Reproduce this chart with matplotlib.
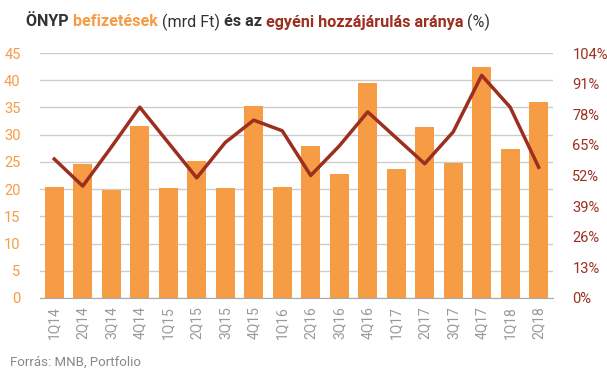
import matplotlib.pyplot as plt

quarters = ['1Q14', '2Q14', '3Q14', '4Q14', '1Q15', '2Q15', '3Q15', '4Q15', '1Q16',
            '2Q16', '3Q16', '4Q16', '1Q17', '2Q17', '3Q17', '4Q17', '1Q18', '2Q18']
payments = [20.4, 24.6, 19.9, 31.6, 20.2, 25.2, 20.2, 35.3, 20.4,
            27.9, 22.8, 39.5, 23.7, 31.4, 24.8, 42.5, 27.4, 36.0]
ratio = [59.0, 47.5, 64.0, 81.0, 66.0, 51.0, 66.0, 75.5, 71.0,
         52.0, 64.5, 79.0, 68.0, 57.0, 70.5, 94.5, 81.0, 55.5]
left_ticks = [0, 5, 10, 15, 20, 25, 30, 35, 40, 45]
right_ticks = [0, 13, 26, 39, 52, 65, 78, 91, 104]

orange = '#f59c45'
red = '#9c2f1f'
dark = '#333333'

plt.rcParams['font.family'] = ['Roboto', 'DejaVu Sans']

fig = plt.figure(figsize=(6.07, 3.8), dpi=100)
ax = fig.add_axes([0.0659, 0.2158, 0.845, 0.6447])
ax2 = ax.twinx()

x = list(range(len(quarters)))
ax.bar(x, payments, width=0.67, color=orange, zorder=2)
ax.set_xlim(-0.5, len(quarters) - 0.5)
ax.set_ylim(0, 45)
ax.set_yticks(left_ticks)
ax.grid(axis='y', color='#cccccc', linewidth=1, zorder=0)
ax.set_axisbelow(True)
ax.set_xticks(x)
ax.set_xticklabels(quarters, rotation=90, color='#999999', fontsize=10)
ax.tick_params(axis='y', colors=orange, labelsize=10.5, length=0, pad=14)
ax.tick_params(axis='x', length=0, pad=6)
for s in ['top', 'left', 'right']:
    ax.spines[s].set_visible(False)
ax.spines['bottom'].set_color('#aaaaaa')

ax2.plot(x, ratio, color=red, linewidth=2.5, zorder=3)
ax2.set_ylim(0, 104)
ax2.set_yticks(right_ticks)
ax2.set_yticklabels([f'{t}%' for t in right_ticks])
ax2.tick_params(axis='y', colors=red, labelsize=10.5, length=0, pad=14)
for s in ['top', 'left', 'right', 'bottom']:
    ax2.spines[s].set_visible(False)

# multi-coloured title
parts = [('ÖNYP ', dark, 'bold'), ('befizetések ', orange, 'bold'), ('(mrd Ft) ', dark, 'normal'),
         ('és az ', dark, 'bold'), ('egyéni hozzájárulás aránya ', red, 'bold'), ('(%)', dark, 'normal')]
renderer = fig.canvas.get_renderer()
xpos = 26
for txt, col, wt in parts:
    t = fig.text(xpos / 607, 1 - 22 / 380, txt, color=col, fontweight=wt, fontsize=11.6,
                 va='center', ha='left')
    bb = t.get_window_extent(renderer=renderer)
    xpos += bb.width

fig.text(10 / 607, 1 - 362 / 380, 'Forrás: MNB, Portfolio', color='#888888', fontsize=9.5,
         va='center', ha='left')

fig.savefig('out.png', dpi=100)
